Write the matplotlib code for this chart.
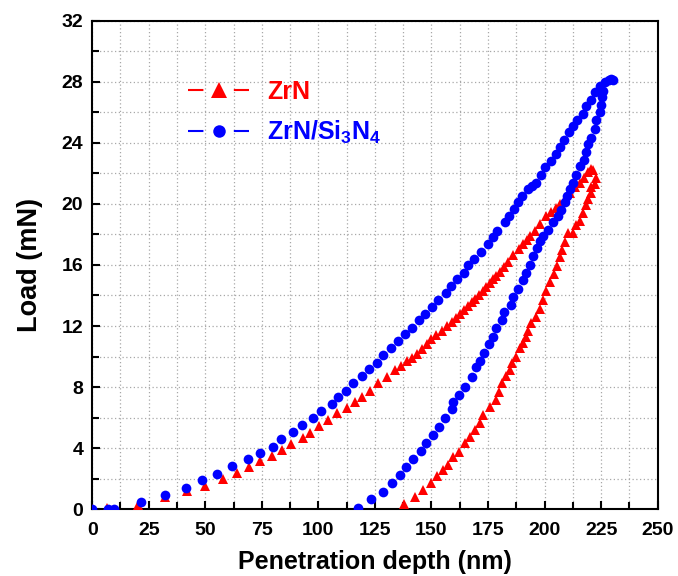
import matplotlib
matplotlib.use("Agg")
import matplotlib.pyplot as plt
from matplotlib.lines import Line2D
from matplotlib.legend_handler import HandlerTuple
from matplotlib.ticker import MultipleLocator

plt.rcParams["font.family"] = ["Liberation Sans", "DejaVu Sans"]
plt.rcParams["font.weight"] = "bold"
plt.rcParams["mathtext.fontset"] = "custom"
plt.rcParams["mathtext.rm"] = "Liberation Sans:bold"
plt.rcParams["mathtext.it"] = "Liberation Sans:bold"
plt.rcParams["mathtext.bf"] = "Liberation Sans:bold"

# * ZrN: loading then unloading (depth nm, load mN)
zrn_depth = [0, 6.5, 20.2, 32.2, 42.1, 49.9, 58.0, 63.9, 69.3, 74.2, 79.3, 83.7,
             88.1, 93.0, 96.3, 100.4, 104.4, 108.3, 112.5, 116.2, 119.1, 122.8,
             126.5, 130.2, 133.8, 136.4, 139.0, 141.2, 143.4, 145.6, 147.8, 150.0,
             152.2, 154.6, 156.9, 159.0, 161.0, 162.7, 164.3, 166.0, 167.7, 169.4,
             171.1, 172.7, 174.3, 175.8, 177.3, 178.7, 180.2, 181.9, 183.9, 186.1,
             188.7, 190.5, 192.2, 193.5, 195.7, 197.9, 200.8, 203.0, 204.9, 206.7,
             208.9, 211.1, 213.3, 215.5, 217.4, 219.2, 220.7, 221.6, 222.9,
             # unloading
             222.2, 220.7, 220.7, 219.2, 218.5, 217.0, 215.5, 214.0, 212.6, 210.4,
             208.9, 207.9, 206.7, 205.5, 204.1, 202.6, 200.8, 199.3, 197.9, 196.4,
             194.2, 192.7, 191.6, 190.5, 189.0, 187.2, 185.4, 184.6, 182.9, 181.0,
             179.8, 178.7, 175.8, 172.8, 171.4, 169.2, 167.0, 164.8, 162.2, 159.6,
             157.4, 155.2, 152.5, 149.6, 146.4, 142.7, 137.8]
zrn_load = [0, 0.10, 0.26, 0.77, 1.18, 1.50, 1.97, 2.34, 2.74, 3.15, 3.48, 3.88,
            4.30, 4.64, 5.00, 5.45, 5.85, 6.29, 6.60, 7.05, 7.38, 7.77,
            8.26, 8.69, 9.09, 9.38, 9.68, 9.93, 10.18, 10.51, 10.84, 11.14,
            11.43, 11.70, 11.98, 12.26, 12.53, 12.80, 13.07, 13.31, 13.55, 13.80,
            14.06, 14.31, 14.57, 14.81, 15.05, 15.29, 15.53, 15.85, 16.18, 16.62,
            17.06, 17.40, 17.65, 17.90, 18.20, 18.70, 19.20, 19.50, 19.75, 20.00,
            20.30, 20.70, 21.10, 21.40, 21.70, 22.10, 22.30, 22.20, 21.70,
            # unloading
            21.30, 21.10, 20.70, 20.30, 19.90, 19.40, 18.90, 18.60, 18.10, 18.10,
            17.50, 17.00, 16.50, 15.90, 15.40, 14.90, 14.30, 13.70, 13.10, 12.60,
            12.20, 11.65, 11.25, 10.90, 10.55, 10.00, 9.57, 9.13, 8.70, 8.26,
            7.70, 7.16, 6.72, 6.18, 5.63, 5.19, 4.75, 4.32, 3.77, 3.40,
            2.89, 2.56, 2.17, 1.69, 1.25, 0.80, 0.33]

# * ZrN/Si3N4: loading then unloading
zrn_si_depth = [0, 7.0, 9.5, 21.6, 32.3, 41.5, 48.7, 55.2, 61.8, 69.0, 74.0, 79.8,
                83.6, 88.6, 92.8, 97.7, 101.0, 106.0, 108.8, 112.2, 115.4, 119.5,
                122.5, 125.7, 128.7, 131.9, 135.4, 138.3, 141.6, 144.3, 147.2, 150.3,
                153.1, 156.4, 158.8, 161.5, 164.3, 166.2, 168.7, 171.9, 175.0, 177.3,
                179.0, 182.4, 184.3, 186.3, 188.3, 190.2, 192.7, 194.6, 196.4, 198.3,
                200.1, 202.7, 204.9, 206.7, 208.5, 210.8, 212.6, 214.4, 217.1, 218.5,
                220.4, 222.5, 224.4, 226.6, 228.3, 229.5, 230.3,
                # unloading
                225.9, 225.5, 225.1, 224.4, 222.9, 222.2, 220.7, 219.2, 218.2, 217.3,
                215.5, 214.1, 212.6, 211.1, 209.9, 208.9, 207.4, 205.9, 203.7, 201.5,
                199.3, 197.9, 196.7, 194.9, 193.5, 192.0, 190.5, 188.3, 186.1, 185.1,
                182.0, 181.4, 178.7, 177.2, 175.5, 173.1, 171.4, 169.5, 167.7, 164.8,
                162.2, 159.6, 158.9, 155.9, 153.4, 150.7, 147.5, 145.2, 141.9, 138.7,
                136.0, 132.4, 128.4, 123.2, 117.6]
zrn_si_load = [0, 0.0, 0.02, 0.50, 0.96, 1.42, 1.90, 2.32, 2.80, 3.26, 3.70, 4.10,
               4.58, 5.04, 5.52, 5.96, 6.44, 6.90, 7.38, 7.77, 8.26, 8.74,
               9.20, 9.60, 10.10, 10.56, 11.00, 11.45, 11.87, 12.40, 12.80, 13.25,
               13.70, 14.17, 14.60, 15.05, 15.50, 15.97, 16.40, 16.85, 17.35, 17.85,
               18.20, 18.80, 19.20, 19.65, 20.10, 20.50, 21.00, 21.20, 21.40, 21.90,
               22.40, 22.80, 23.30, 23.70, 24.20, 24.70, 25.10, 25.50, 25.90, 26.40,
               26.80, 27.30, 27.70, 28.00, 28.15, 28.20, 28.15,
               # unloading
               27.40, 27.00, 26.50, 26.00, 25.50, 24.90, 24.30, 23.90, 23.40, 22.90,
               22.50, 21.90, 21.40, 21.00, 20.50, 20.10, 19.60, 19.20, 18.80, 18.30,
               17.90, 17.60, 17.10, 16.60, 16.00, 15.50, 15.00, 14.40, 13.90, 13.40,
               12.90, 12.40, 11.90, 11.30, 10.80, 10.20, 9.70, 9.30, 8.65, 8.00,
               7.50, 7.05, 6.55, 5.96, 5.40, 4.86, 4.36, 3.83, 3.30, 2.78,
               2.23, 1.69, 1.14, 0.64, 0.10]

label_ls = ["ZrN", "ZrN/Si$_3$N$_4$"]
color_ls = ["#ff0000", "#0000ff"]
marker_ls = ["^", "o"]
legend_ms = [11, 9]

fig = plt.figure(figsize=(6.78, 5.76), dpi=100)
ax = fig.add_axes([0.136, 0.116, 0.834, 0.848])  # left, bottom, width, height

ax.plot(zrn_depth, zrn_load, ls="none", marker="^", ms=7.2, color=color_ls[0], mew=0, zorder=3)
ax.plot(zrn_si_depth, zrn_si_load, ls="none", marker="o", ms=7, color=color_ls[1], mew=0, zorder=4)

ax.set_xlim(0, 250)
ax.set_ylim(0, 32)
ax.xaxis.set_major_locator(MultipleLocator(25))
ax.xaxis.set_minor_locator(MultipleLocator(12.5))
ax.yaxis.set_major_locator(MultipleLocator(4))
ax.yaxis.set_minor_locator(MultipleLocator(2))

ax.grid(which="both", color="#a8a8a8", ls=(0, (1, 2)), lw=0.9)
ax.set_axisbelow(True)
ax.tick_params(which="both", direction="in", width=1.5, labelsize=14, top=False, right=False)
ax.tick_params(which="major", length=6)
ax.tick_params(which="minor", length=5)
ax.tick_params(axis="x", which="major", pad=9)
ax.tick_params(axis="y", which="major", pad=6.5)
for sp in ax.spines.values():
    sp.set_linewidth(1.5)

ax.set_xlabel("Penetration depth (nm)", fontsize=18, fontweight="bold", labelpad=8)
ax.set_ylabel("Load (mN)", fontsize=19.5, fontweight="bold", labelpad=13)

# legend handles: line segments with a gap, marker in the middle
handles = []
for c, m, ms in zip(color_ls, marker_ls, legend_ms):
    ln = Line2D([], [], color=c, lw=1.5, ls=(0, (7.4, 14.6, 7.4, 30)))
    mk = Line2D([], [], ls="none", marker=m, ms=ms, color=c, mew=0)
    handles.append((ln, mk))

leg = ax.legend(handles, label_ls, handler_map={tuple: HandlerTuple(ndivide=1, pad=0)},
                loc="upper left", bbox_to_anchor=(0.13, 0.925), frameon=False,
                handlelength=2.45, handletextpad=0.7, labelspacing=0.6,
                prop={"weight": "bold", "size": 18})
for txt, c in zip(leg.get_texts(), color_ls):
    txt.set_color(c)

fig.savefig("out.png", dpi=100)
